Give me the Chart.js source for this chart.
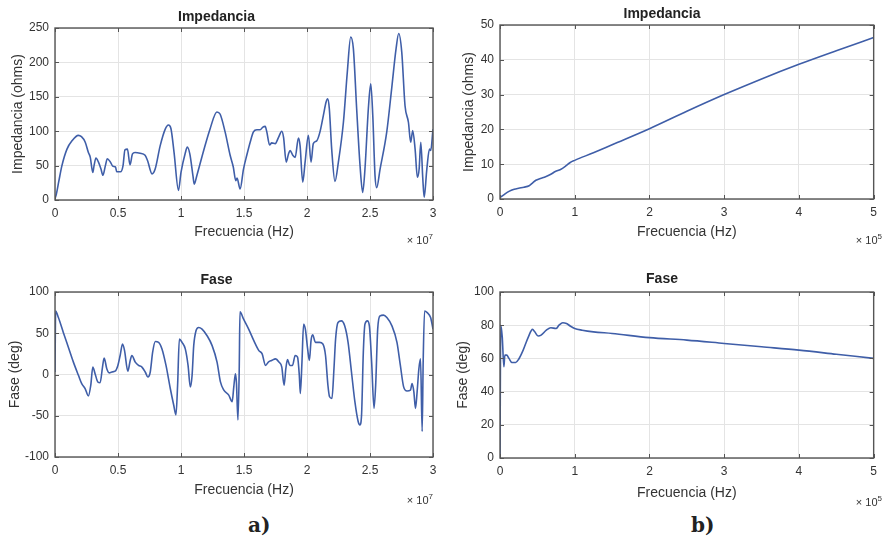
<!DOCTYPE html>
<html>
<head>
<meta charset="utf-8">
<script src="https://cdn.jsdelivr.net/npm/chart.js"></script>
<style>
  body { margin: 0; background: #fff; }
  #fig { position: relative; width: 883px; height: 544px; overflow: hidden; font-family: "Liberation Sans", Arial, sans-serif; }
  canvas { position: absolute; }
  .exp { position: absolute; font-size: 11px; color: #333; white-space: nowrap; }
  .exp sup { font-size: 8px; }
  .lbl { position: absolute; font-family: "DejaVu Serif", "Liberation Serif", serif; font-weight: bold; font-size: 20px; color: #222; }
</style>
</head>
<body>
<div id="fig">
  <canvas id="grafico1" width="445" height="250" style="left:0px;top:0px"></canvas>
  <canvas id="grafico2" width="445" height="250" style="left:0px;top:262px"></canvas>
  <canvas id="grafico3" width="438" height="250" style="left:445px;top:0px"></canvas>
  <canvas id="grafico4" width="438" height="250" style="left:445px;top:262px"></canvas>
  <div class="exp" style="right:450px;top:232px">× 10<sup>7</sup></div>
  <div class="exp" style="right:450px;top:492px">× 10<sup>7</sup></div>
  <div class="exp" style="right:1px;top:232px">× 10<sup>5</sup></div>
  <div class="exp" style="right:1px;top:494px">× 10<sup>5</sup></div>
  <div class="lbl" style="left:248px;top:513px">a)</div>
  <div class="lbl" style="left:691px;top:513px">b)</div>
</div>
<script>
// a) frecuencia en unidades de 1e7 Hz
const freqImpA = [0, 0.01, 0.03, 0.055, 0.095, 0.135, 0.185, 0.21, 0.24, 0.265, 0.28, 0.30, 0.31, 0.325, 0.345, 0.365, 0.38, 0.40, 0.415, 0.44, 0.46, 0.48, 0.49, 0.52, 0.54, 0.555, 0.575, 0.595, 0.615, 0.635, 0.675, 0.715, 0.735, 0.77, 0.795, 0.835, 0.875, 0.90, 0.92, 0.945, 0.98, 1.00, 1.035, 1.05, 1.07, 1.095, 1.105, 1.125, 1.18, 1.23, 1.285, 1.31, 1.35, 1.39, 1.415, 1.435, 1.445, 1.469, 1.496, 1.522, 1.549, 1.575, 1.602, 1.628, 1.65, 1.668, 1.681, 1.703, 1.72, 1.748, 1.774, 1.80, 1.814, 1.835, 1.853, 1.866, 1.887, 1.906, 1.932, 1.945, 1.966, 1.985, 2.011, 2.032, 2.05, 2.077, 2.103, 2.13, 2.151, 2.164, 2.177, 2.196, 2.222, 2.249, 2.289, 2.32, 2.347, 2.368, 2.394, 2.421, 2.442, 2.46, 2.487, 2.506, 2.522, 2.54, 2.553, 2.58, 2.633, 2.672, 2.707, 2.728, 2.752, 2.778, 2.805, 2.823, 2.839, 2.858, 2.876, 2.89, 2.903, 2.919, 2.93, 2.951, 2.972, 2.982, 3.0];
const impA = [2, 8, 27, 50, 74, 86, 94, 92, 84, 69, 62, 40, 50, 61, 55, 45, 36, 50, 60, 55, 49, 48, 41, 41, 50, 73, 74, 51, 67, 69, 68, 65, 57, 38, 45, 79, 103, 109, 104, 69, 14, 40, 69, 77, 67, 35, 23, 35, 72, 103, 128, 125, 99, 65, 48, 28, 32, 16, 45, 65, 84, 99, 102, 102, 106, 107, 99, 80, 83, 82, 91, 100, 91, 55, 67, 72, 65, 62, 90, 79, 26, 55, 94, 55, 82, 86, 99, 123, 142, 147, 133, 74, 27, 55, 113, 186, 237, 220, 133, 50, 11, 45, 133, 169, 123, 35, 18, 45, 99, 162, 220, 242, 215, 137, 113, 84, 101, 74, 33, 45, 84, 31, 4, 45, 74, 72, 103];

const freqFaseA = [0, 0.005, 0.027, 0.066, 0.106, 0.146, 0.186, 0.212, 0.239, 0.265, 0.284, 0.30, 0.318, 0.34, 0.358, 0.377, 0.39, 0.411, 0.43, 0.451, 0.477, 0.499, 0.517, 0.536, 0.552, 0.578, 0.597, 0.61, 0.637, 0.663, 0.69, 0.716, 0.737, 0.756, 0.775, 0.796, 0.822, 0.849, 0.881, 0.915, 0.942, 0.96, 0.973, 0.987, 1.008, 1.034, 1.056, 1.074, 1.088, 1.101, 1.119, 1.14, 1.167, 1.207, 1.247, 1.286, 1.313, 1.34, 1.379, 1.406, 1.419, 1.432, 1.44, 1.452, 1.462, 1.468, 1.497, 1.537, 1.578, 1.618, 1.644, 1.671, 1.693, 1.719, 1.751, 1.778, 1.80, 1.818, 1.832, 1.845, 1.864, 1.885, 1.906, 1.925, 1.939, 1.947, 1.96, 1.973, 1.987, 2.005, 2.019, 2.032, 2.045, 2.067, 2.099, 2.126, 2.147, 2.166, 2.179, 2.198, 2.214, 2.227, 2.246, 2.273, 2.299, 2.326, 2.353, 2.38, 2.406, 2.42, 2.433, 2.447, 2.46, 2.479, 2.495, 2.513, 2.532, 2.545, 2.561, 2.58, 2.607, 2.634, 2.674, 2.714, 2.741, 2.767, 2.794, 2.821, 2.834, 2.848, 2.861, 2.874, 2.888, 2.901, 2.914, 2.922, 2.933, 2.954, 2.981, 3.0];
const faseA = [3, 77, 69, 51, 33, 15, -1, -11, -17, -26, -13, 9, 1, -9, -10, 9, 20, 7, 2, 3, 4, 11, 23, 37, 29, 4, 17, 23, 15, 11, 9, 3, -3, 3, 27, 40, 39, 31, 11, -17, -37, -49, -13, 43, 39, 31, 11, -15, -1, 35, 53, 57, 55, 47, 35, 15, -9, -19, -25, -33, -15, 1, -10, -55, 5, 76, 67, 55, 41, 29, 25, 11, 15, 17, 19, 15, 9, -13, 7, 18, 11, 11, 23, 21, -1, -23, 15, 61, 55, 31, 17, 41, 48, 39, 39, 37, 23, -13, -27, -29, 7, 43, 63, 65, 59, 39, 3, -33, -57, -61, -49, 27, 61, 65, 59, 15, -41, -13, 55, 71, 72, 69, 59, 39, 11, -15, -20, -19, -11, -21, -41, -21, 7, 19, -69, 15, 77, 75, 69, 55];

// b) frecuencia en unidades de 1e5 Hz
const freqImpB = [0, 0.05, 0.12, 0.19, 0.25, 0.32, 0.39, 0.43, 0.48, 0.54, 0.61, 0.68, 0.74, 0.81, 0.88, 0.94, 1.0, 1.25, 1.5, 2.0, 2.5, 3.0, 3.5, 4.0, 4.5, 5.0];
const impB = [0.4, 1.2, 2.2, 2.8, 3.1, 3.4, 3.8, 4.5, 5.4, 5.9, 6.4, 7.1, 7.9, 8.5, 9.5, 10.5, 11.1, 13.3, 15.6, 20.2, 25.2, 30, 34.5, 38.7, 42.6, 46.4];

const freqFaseB = [0, 0.01, 0.03, 0.052, 0.065, 0.09, 0.12, 0.16, 0.21, 0.25, 0.31, 0.38, 0.435, 0.465, 0.51, 0.55, 0.62, 0.68, 0.75, 0.79, 0.84, 0.89, 0.94, 1.0, 1.1, 1.25, 1.5, 2.0, 2.5, 3.0, 3.5, 4.0, 4.5, 5.0];
const faseB = [0, 80, 73, 55, 62, 62, 60, 57.5, 57.5, 59.5, 65, 73, 77.5, 76, 73.5, 74, 77, 78.5, 78, 80, 81.5, 81, 79.5, 78, 77, 76, 75, 72.5, 71, 69, 67, 65, 62.5, 60];

const fuente = '"Liberation Sans", Arial, sans-serif';
const azul = '#3f5ea8';

// caja y marcas interiores, estilo matlab
const caja = {
  id: 'caja',
  afterDraw(chart) {
    const { ctx, chartArea: a, scales } = chart;
    ctx.save();
    ctx.strokeStyle = '#555';
    ctx.lineWidth = 1;
    ctx.beginPath();
    scales.x.ticks.forEach(t => {
      const px = Math.round(scales.x.getPixelForValue(t.value)) + 0.5;
      ctx.moveTo(px, a.bottom); ctx.lineTo(px, a.bottom - 4);
      ctx.moveTo(px, a.top); ctx.lineTo(px, a.top + 4);
    });
    scales.y.ticks.forEach(t => {
      const py = Math.round(scales.y.getPixelForValue(t.value)) + 0.5;
      ctx.moveTo(a.left, py); ctx.lineTo(a.left + 4, py);
      ctx.moveTo(a.right, py); ctx.lineTo(a.right - 4, py);
    });
    ctx.stroke();
    ctx.lineWidth = 1.4;
    ctx.strokeRect(a.left, a.top, a.right - a.left, a.bottom - a.top);
    ctx.restore();
  }
};

function grafico(id, g, xs, ys, titulo, yLabel, xMax, xStep, yMin, yMax, yStep) {
  const ctx = document.getElementById(id);
  const [l, r, t, b] = g.area;
  new Chart(ctx, {
    type: 'line',
    data: {
      datasets: [{
        data: xs.map((x, i) => ({ x: x, y: ys[i] })),
        borderColor: azul,
        borderWidth: 1.6,
        pointRadius: 0,
        cubicInterpolationMode: 'monotone',
        fill: false
      }]
    },
    options: {
      responsive: false,
      animation: false,
      events: [],
      layout: { padding: { left: 0, right: g.x + g.w - r, top: 0, bottom: 0 } },
      plugins: {
        legend: { display: false },
        tooltip: { enabled: false },
        title: {
          display: true,
          text: titulo,
          color: '#222',
          font: { family: fuente, size: 14, weight: 'bold', lineHeight: 1.2 },
          padding: { top: g.titleY - g.y - 8.4, bottom: t - g.titleY - 8.4 }
        }
      },
      scales: {
        x: {
          type: 'linear',
          min: 0, max: xMax,
          afterFit: s => { s.height = g.y + g.h - b; },
          ticks: { stepSize: xStep, padding: 6, color: '#333', font: { family: fuente, size: 12 }, callback: v => String(+v.toFixed(2)) },
          grid: { color: '#e4e4e4', drawTicks: false },
          border: { display: false },
          title: {
            display: true, text: 'Frecuencia (Hz)', color: '#333',
            font: { family: fuente, size: 14, lineHeight: 1.2 },
            padding: { top: 0, bottom: g.y + g.h - g.xLabY - 8.4 }
          }
        },
        y: {
          min: yMin, max: yMax,
          afterFit: s => { s.width = l - g.x; },
          ticks: { stepSize: yStep, padding: 6, color: '#333', font: { family: fuente, size: 12 }, callback: v => String(v) },
          grid: { color: '#e4e4e4', drawTicks: false },
          border: { display: false },
          title: {
            display: true, text: yLabel, color: '#333',
            font: { family: fuente, size: 14, lineHeight: 1.2 },
            padding: { top: g.yLabX - g.x - 8.4, bottom: 0 }
          }
        }
      }
    },
    plugins: [caja]
  });
}

grafico('grafico1', { x: 0, y: 0, w: 445, h: 250, area: [55, 433, 28, 200], titleY: 17, yLabX: 18, xLabY: 232 },
  freqImpA, impA, 'Impedancia', 'Impedancia (ohms)', 3, 0.5, 0, 250, 50);
grafico('grafico2', { x: 0, y: 262, w: 445, h: 250, area: [55, 433, 292, 457], titleY: 280, yLabX: 15, xLabY: 490 },
  freqFaseA, faseA, 'Fase', 'Fase (deg)', 3, 0.5, -100, 100, 50);
grafico('grafico3', { x: 445, y: 0, w: 438, h: 250, area: [500, 879, 25, 199], titleY: 14, yLabX: 469, xLabY: 232 },
  freqImpB, impB, 'Impedancia', 'Impedancia (ohms)', 5, 1, 0, 50, 10);
grafico('grafico4', { x: 445, y: 262, w: 438, h: 250, area: [500, 879, 292, 458], titleY: 279, yLabX: 463, xLabY: 493 },
  freqFaseB, faseB, 'Fase', 'Fase (deg)', 5, 1, 0, 100, 20);
</script>
</body>
</html>
